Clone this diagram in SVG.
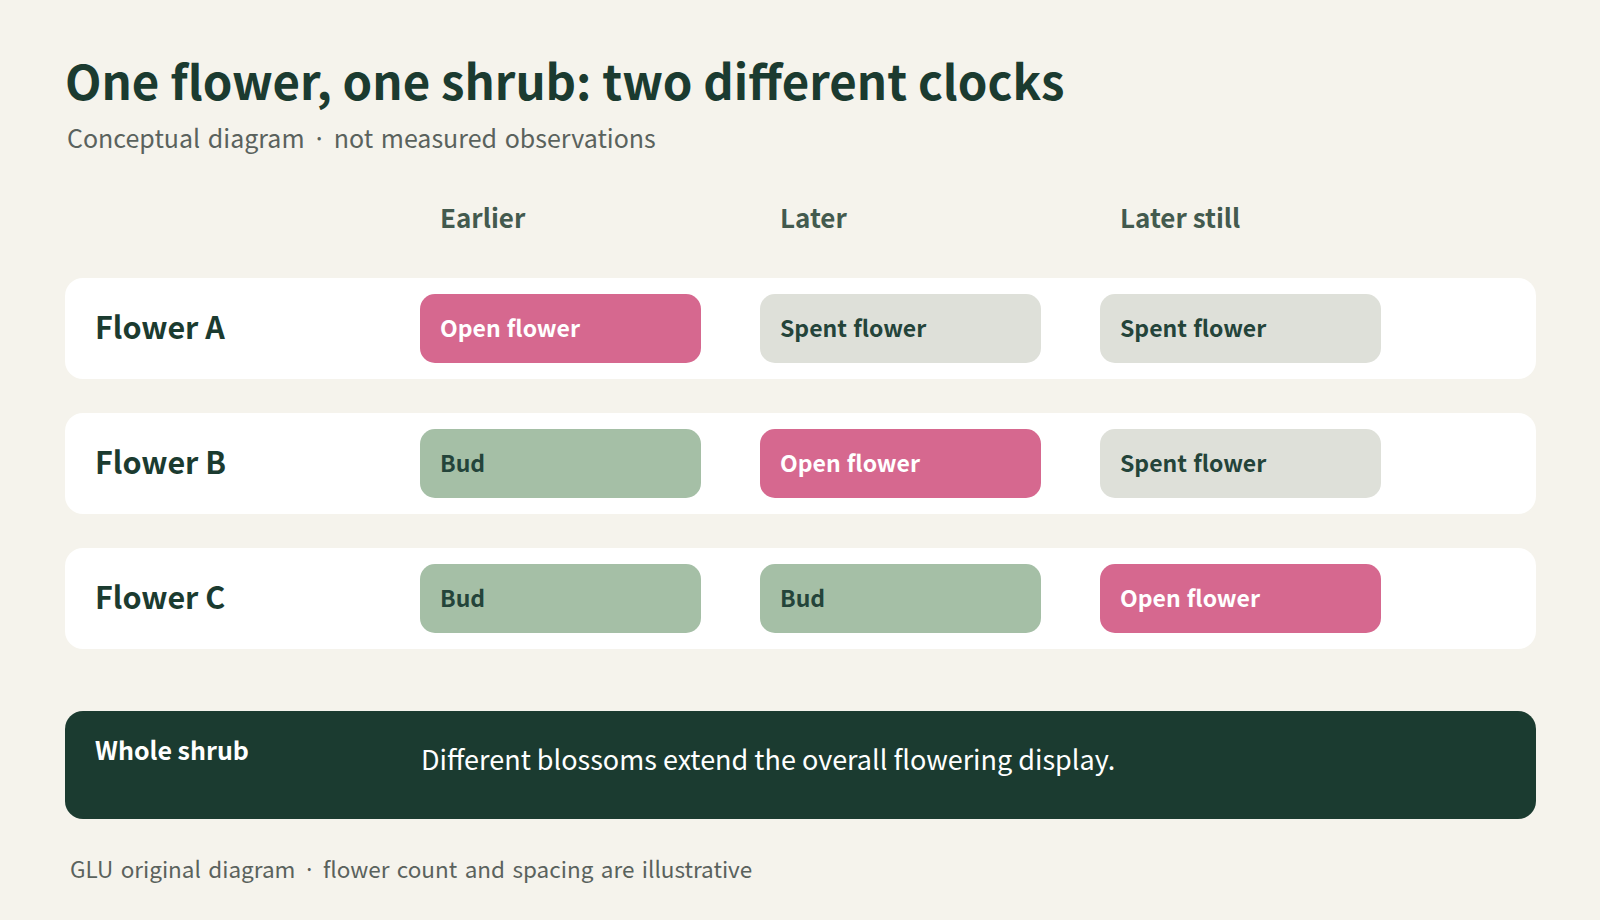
<svg xmlns="http://www.w3.org/2000/svg" width="1600" height="920" viewBox="0 0 1600 920">
<style>
text{font-family:"Noto Sans CJK KR","Noto Sans",sans-serif}
.title{font-size:47.4px;font-weight:700;fill:#1b3b30}
.sub{font-size:25px;fill:#5a625d;word-spacing:2px}
.col{font-size:26px;font-weight:700;fill:#435a4e}
.card{fill:#ffffff}
.lab{font-size:30.5px;font-weight:700;fill:#1b3b30}
.pill{stroke:none}
.open{fill:#d6688f}
.bud{fill:#a5bfa6}
.spent{fill:#dee0d9}
.pt{font-size:23px;font-weight:700;word-spacing:1px}
.pw{fill:#ffffff}
.pd{fill:#24443a}
.foot{font-size:22.5px;fill:#5a625d;word-spacing:2.4px}
</style>
<rect width="1600" height="920" fill="#f5f3ec"/>
<text class="title" x="65" y="100">One flower, one shrub: two different clocks</text>
<text class="sub" x="67" y="148">Conceptual diagram · not measured observations</text>
<g id="headers">
<text class="col" x="440" y="228">Earlier</text>
<text class="col" x="780" y="228">Later</text>
<text class="col" x="1120" y="228">Later still</text>
</g>
<g id="connectors"></g>
<g id="flowerA">
<rect class="card" x="65" y="278" width="1471" height="101" rx="18"/>
<text class="lab" x="95" y="339">Flower A</text>
<rect class="pill open" x="420" y="294" width="281" height="69" rx="15"/>
<text class="pt pw" x="440" y="337">Open flower</text>
<rect class="pill spent" x="760" y="294" width="281" height="69" rx="15"/>
<text class="pt pd" x="780" y="337">Spent flower</text>
<rect class="pill spent" x="1100" y="294" width="281" height="69" rx="15"/>
<text class="pt pd" x="1120" y="337">Spent flower</text>
</g>
<g id="flowerB">
<rect class="card" x="65" y="413" width="1471" height="101" rx="18"/>
<text class="lab" x="95" y="474">Flower B</text>
<rect class="pill bud" x="420" y="429" width="281" height="69" rx="15"/>
<text class="pt pd" x="440" y="472">Bud</text>
<rect class="pill open" x="760" y="429" width="281" height="69" rx="15"/>
<text class="pt pw" x="780" y="472">Open flower</text>
<rect class="pill spent" x="1100" y="429" width="281" height="69" rx="15"/>
<text class="pt pd" x="1120" y="472">Spent flower</text>
</g>
<g id="flowerC">
<rect class="card" x="65" y="548" width="1471" height="101" rx="18"/>
<text class="lab" x="95" y="609">Flower C</text>
<rect class="pill bud" x="420" y="564" width="281" height="69" rx="15"/>
<text class="pt pd" x="440" y="607">Bud</text>
<rect class="pill bud" x="760" y="564" width="281" height="69" rx="15"/>
<text class="pt pd" x="780" y="607">Bud</text>
<rect class="pill open" x="1100" y="564" width="281" height="69" rx="15"/>
<text class="pt pw" x="1120" y="607">Open flower</text>
</g>
<g id="wholeShrub">
<rect x="65" y="711" width="1471" height="108" rx="18" fill="#1b3b30"/>
<text x="95" y="760" font-size="25" font-weight="700" fill="#ffffff">Whole shrub</text>
<text x="421" y="770" font-size="27" fill="#ffffff">Different blossoms extend the overall flowering display.</text>
</g>
<text class="foot" x="70" y="878">GLU original diagram · flower count and spacing are illustrative</text>
</svg>
